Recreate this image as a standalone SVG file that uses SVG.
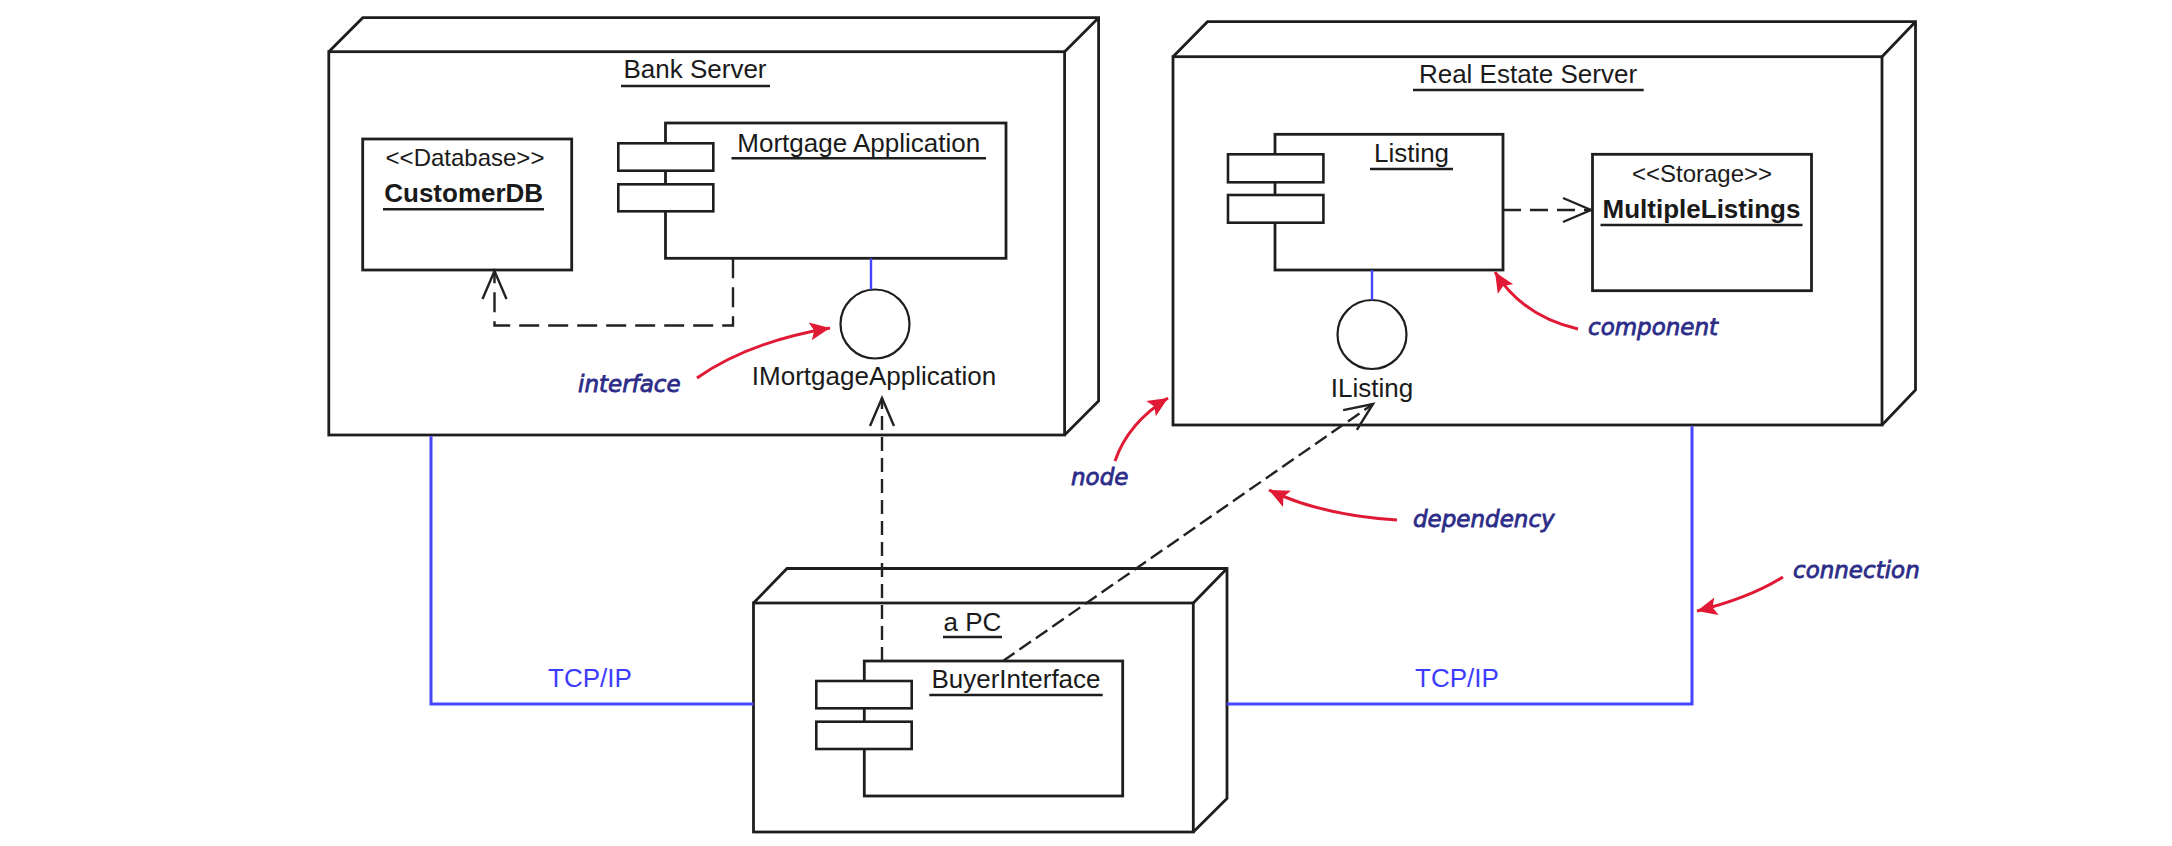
<svg xmlns="http://www.w3.org/2000/svg" width="2172" height="846" viewBox="0 0 2172 846">
<style>
  .box { fill: none; stroke: #1e1e1e; stroke-width: 2.8; stroke-linejoin: miter; }
  .wbox { fill: #ffffff; stroke: #1e1e1e; stroke-width: 2.6; }
  .ul { stroke: #1e1e1e; stroke-width: 2.4; }
  .lbl { font-family: "Liberation Sans", Arial, sans-serif; font-size: 26px; fill: #1a1a1a; text-anchor: middle; }
  .ster { font-family: "Liberation Sans", Arial, sans-serif; font-size: 24px; fill: #1a1a1a; text-anchor: middle; }
  .bold { font-weight: bold; }
  .iface { fill: #ffffff; stroke: #1e1e1e; stroke-width: 2.2; }
  .conn { fill: none; stroke: #4646ff; stroke-width: 3; }
  .asm { fill: none; stroke: #4646ff; stroke-width: 2.4; }
  .tcp { font-family: "Liberation Sans", Arial, sans-serif; font-size: 26px; fill: #3c3cff; text-anchor: middle; }
  .dep { fill: none; stroke: #222222; stroke-width: 2.4; }
  .note { font-family: "DejaVu Sans", "Liberation Sans", sans-serif; font-style: italic; font-size: 23px; fill: #2c2c88; stroke: #2c2c88; stroke-width: 0.8; }
  .red { fill: none; stroke: #e01a35; stroke-width: 3; }
</style>
<defs>
  <marker id="open" markerUnits="userSpaceOnUse" markerWidth="32" markerHeight="28" refX="28" refY="12" orient="auto" overflow="visible">
    <path d="M0,0 L28,12 L0,24" fill="none" stroke="#222222" stroke-width="2.4" stroke-dasharray="none"/>
  </marker>
  <marker id="redhead" markerUnits="userSpaceOnUse" markerWidth="22" markerHeight="20" refX="20" refY="9" orient="auto" overflow="visible">
    <path d="M0,0 L20,9 L0,18 L4,9 z" fill="#e01a35" stroke="none"/>
  </marker>
</defs>
<rect x="0" y="0" width="2172" height="846" fill="#ffffff"/>

<g id="bank-server">
  <rect class="box" x="328.8" y="51.7" width="735.8" height="383.3"/>
  <path class="box" d="M328.8,51.7 L362.8,17.7 L1098.6,17.7 L1098.6,401 L1064.6,435 M1064.6,51.7 L1098.6,17.7"/>
  <text class="lbl" x="695" y="78">Bank Server</text>
  <line class="ul" x1="621" y1="86" x2="770" y2="86"/>
</g>

<g id="customer-db">
  <rect class="box" x="362.7" y="139" width="209" height="131"/>
  <text class="ster" x="465" y="165.7">&lt;&lt;Database&gt;&gt;</text>
  <text class="lbl bold" x="463.7" y="201.7">CustomerDB</text>
  <line class="ul" x1="383" y1="209.3" x2="544" y2="209.3"/>
</g>

<g id="mortgage-application">
  <rect class="box" x="665.5" y="123" width="340.5" height="135.3"/>
  <rect class="wbox" x="618.3" y="143.3" width="95" height="27.4"/>
  <rect class="wbox" x="618.3" y="184.3" width="95" height="27"/>
  <text class="lbl" x="858.7" y="151.7">Mortgage Application</text>
  <line class="ul" x1="731.5" y1="158.3" x2="986" y2="158.3"/>
</g>

<g id="imortgage-application">
  <circle class="iface" cx="875" cy="324" r="34.5"/>
  <text class="lbl" x="874" y="385">IMortgageApplication</text>
</g>

<g id="real-estate-server">
  <rect class="box" x="1173" y="56.7" width="709" height="368.3"/>
  <path class="box" d="M1173,56.7 L1207.5,21.7 L1915.5,21.7 L1915.5,390 L1882,425 M1882,56.7 L1915.5,21.7"/>
  <text class="lbl" x="1528" y="83.3">Real Estate Server</text>
  <line class="ul" x1="1413" y1="90" x2="1643.7" y2="90"/>
</g>

<g id="listing">
  <rect class="box" x="1275" y="134.3" width="228" height="135.7"/>
  <rect class="wbox" x="1228" y="154.3" width="95.4" height="28"/>
  <rect class="wbox" x="1228" y="195" width="95.4" height="27.7"/>
  <text class="lbl" x="1411.5" y="162">Listing</text>
  <line class="ul" x1="1370" y1="169" x2="1453" y2="169"/>
</g>

<g id="multiple-listings">
  <rect class="box" x="1592.5" y="154.3" width="219" height="136.4"/>
  <text class="ster" x="1702" y="181.7">&lt;&lt;Storage&gt;&gt;</text>
  <text class="lbl bold" x="1701.5" y="218">MultipleListings</text>
  <line class="ul" x1="1600.5" y1="225" x2="1802.5" y2="225"/>
</g>

<g id="ilisting">
  <circle class="iface" cx="1372" cy="334.5" r="34.5"/>
  <text class="lbl" x="1372" y="396.7">IListing</text>
</g>

<g id="a-pc">
  <rect class="box" x="753.5" y="603" width="439.8" height="229"/>
  <path class="box" d="M753.5,603 L787,568.5 L1227,568.5 L1227,798.5 L1193.3,832 M1193.3,603 L1227,568.5"/>
  <text class="lbl" x="972.5" y="630.7">a PC</text>
  <line class="ul" x1="943" y1="637" x2="1002" y2="637"/>
</g>

<g id="buyer-interface">
  <rect class="box" x="864.3" y="661" width="258.4" height="135"/>
  <rect class="wbox" x="816.3" y="681" width="95.4" height="27.3"/>
  <rect class="wbox" x="816.3" y="721.7" width="95.4" height="27.3"/>
  <text class="lbl" x="1016" y="688.3">BuyerInterface</text>
  <line class="ul" x1="929.3" y1="695" x2="1102.7" y2="695"/>
</g>

<g id="connectors">
  <path class="conn" d="M431,436.3 L431,704 L753.5,704"/>
  <path class="conn" d="M1227,704 L1692,704 L1692,426.3"/>
  <text class="tcp" x="590" y="687">TCP/IP</text>
  <text class="tcp" x="1457" y="687">TCP/IP</text>
  <line class="asm" x1="871" y1="258.3" x2="871" y2="289.5"/>
  <line class="asm" x1="1372" y1="270" x2="1372" y2="300"/>
  <path class="dep" d="M733,258.3 L733,325.5 L494.5,325.5 L494.5,271" stroke-dasharray="20 9" marker-end="url(#open)"/>
  <path class="dep" d="M1503,210 L1591,210" stroke-dasharray="18 9" marker-end="url(#open)"/>
  <path class="dep" d="M882,661 L882,398" stroke-dasharray="14 7" marker-end="url(#open)"/>
  <path class="dep" d="M1003,661 L1373,404" stroke-dasharray="14 6" marker-end="url(#open)"/>
</g>

<g id="annotations">
  <path class="red" d="M697,378 Q748,342 830,328" marker-end="url(#redhead)"/>
  <text class="note" x="578" y="391.7">interface</text>
  <path class="red" d="M1578,329 Q1522,316 1495,272" marker-end="url(#redhead)"/>
  <text class="note" x="1588" y="335">component</text>
  <path class="red" d="M1115,461 Q1128,423 1168,398" marker-end="url(#redhead)"/>
  <text class="note" x="1071" y="485">node</text>
  <path class="red" d="M1397,520 Q1320,515 1269,490" marker-end="url(#redhead)"/>
  <text class="note" x="1413" y="527">dependency</text>
  <path class="red" d="M1783,577 Q1750,598 1697,611" marker-end="url(#redhead)"/>
  <text class="note" x="1793" y="578">connection</text>
</g>
</svg>
